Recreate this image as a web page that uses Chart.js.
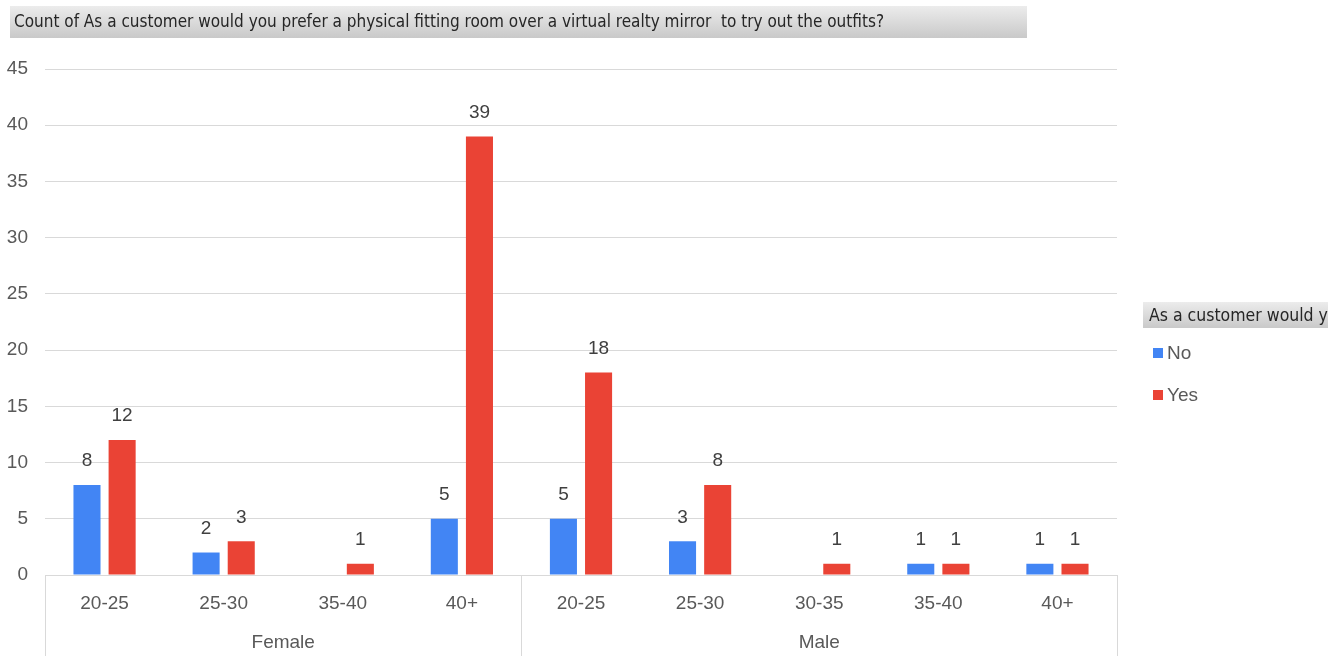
<!DOCTYPE html>
<html>
<head>
<meta charset="utf-8">
<script src="https://cdn.jsdelivr.net/npm/chart.js@4.4.1/dist/chart.umd.min.js"></script>
<style>
  html, body { margin: 0; padding: 0; background: #fff; }
  #wrap { width: 1328px; height: 656px; position: relative; }
</style>
</head>
<body>
<div id="wrap"><canvas id="chart"></canvas></div>
<script>
// data
const ageBands = ['20-25', '25-30', '35-40', '40+', '20-25', '25-30', '30-35', '35-40', '40+'];
const genders = ['Female', 'Male'];
const genderSizes = [4, 5]; // how many age bands under each gender
const noCounts = [8, 2, null, 5, 5, 3, null, 1, 1];
const yesCounts = [12, 3, 1, 39, 18, 8, 1, 1, 1];
const yTicks = [0, 5, 10, 15, 20, 25, 30, 35, 40, 45];

const chartTitle = 'Count of As a customer would you prefer a physical fitting room over a virtual realty mirror  to try out the outfits?';
const legendTitle = 'As a customer would you prefer a physical fitting room over a virtual reality mirror to try out the outfits?';

const BLUE = '#4285F4', RED = '#EA4335';
const TXT = '#595959';
const NUM_FONT = '19px "Liberation Sans", Arial, sans-serif';
const TITLE_FONT = '17px "DejaVu Sans Condensed", "Liberation Sans Narrow", sans-serif';
const LEG_FONT = '17.5px "DejaVu Sans Condensed", "Liberation Sans Narrow", sans-serif';

function grayBox(ctx, x, y, w, h) {
  const g = ctx.createLinearGradient(0, y, 0, y + h);
  g.addColorStop(0, '#ececec');
  g.addColorStop(1, '#c9c9c9');
  ctx.fillStyle = g;
  ctx.fillRect(x, y, w, h);
}

// values above each bar
const valueLabels = {
  id: 'valueLabels',
  afterDatasetsDraw(chart) {
    const ctx = chart.ctx;
    ctx.save();
    ctx.font = NUM_FONT;
    ctx.fillStyle = '#404040';
    ctx.textAlign = 'center';
    ctx.textBaseline = 'middle';
    chart.data.datasets.forEach((ds, i) => {
      chart.getDatasetMeta(i).data.forEach((bar, j) => {
        const v = ds.data[j];
        if (v == null) return;
        ctx.fillText(String(v), bar.x, bar.y - 24);
      });
    });
    ctx.restore();
  }
};

// title box, legend, gender row of the x axis
const decor = {
  id: 'decor',
  afterDraw(chart) {
    const ctx = chart.ctx;
    const area = chart.chartArea;
    const xs = chart.scales.x;
    ctx.save();

    // title
    grayBox(ctx, 10, 6, 1017, 32);
    ctx.font = TITLE_FONT;
    ctx.fillStyle = '#262626';
    ctx.textBaseline = 'middle';
    ctx.textAlign = 'left';
    ctx.fillText(chartTitle, 14, 23);

    // legend
    grayBox(ctx, 1143, 302, 200, 26);
    ctx.font = LEG_FONT;
    ctx.fillStyle = '#262626';
    ctx.fillText(legendTitle, 1149, 316);
    ctx.font = NUM_FONT;
    chart.data.datasets.forEach((ds, i) => {
      const cy = 353 + i * 42;
      ctx.fillStyle = ds.backgroundColor;
      ctx.fillRect(1153, cy - 5, 10, 10);
      ctx.fillStyle = TXT;
      ctx.fillText(ds.label, 1167, cy + 1);
    });

    // gender group separators and labels
    ctx.strokeStyle = '#d9d9d9';
    ctx.lineWidth = 1;
    const bottom = chart.height;
    let start = 0;
    const edges = [area.left];
    genders.forEach((g, k) => {
      const end = start + genderSizes[k] - 1;
      const mid = (xs.getPixelForValue(start) + xs.getPixelForValue(end)) / 2;
      ctx.fillStyle = TXT;
      ctx.textAlign = 'center';
      ctx.fillText(g, mid, 643);
      if (k < genders.length - 1) {
        edges.push((xs.getPixelForValue(end) + xs.getPixelForValue(end + 1)) / 2);
      }
      start = end + 1;
    });
    edges.push(area.right);
    edges.forEach(x => {
      ctx.beginPath();
      ctx.moveTo(Math.round(x) + 0.5, area.bottom);
      ctx.lineTo(Math.round(x) + 0.5, bottom);
      ctx.stroke();
    });
    ctx.restore();
  }
};

new Chart(document.getElementById('chart'), {
  type: 'bar',
  data: {
    labels: ageBands,
    datasets: [
      { label: 'No', data: noCounts, backgroundColor: BLUE },
      { label: 'Yes', data: yesCounts, backgroundColor: RED }
    ]
  },
  options: {
    responsive: true,
    maintainAspectRatio: false,
    animation: false,
    devicePixelRatio: 1,
    categoryPercentage: 0.59,
    barPercentage: 0.77,
    layout: { padding: { top: 69, right: 211, bottom: 0, left: 0 } },
    plugins: {
      legend: { display: false },
      title: { display: false },
      tooltip: { enabled: false }
    },
    scales: {
      x: {
        grid: { display: false, drawTicks: false },
        border: { display: true, color: '#d9d9d9' },
        ticks: { color: TXT, font: { family: '"Liberation Sans", Arial, sans-serif', size: 19 }, padding: 17, maxRotation: 0 },
        afterFit(scale) { scale.height = 81; }
      },
      y: {
        min: 0,
        max: 45,
        afterBuildTicks(scale) { scale.ticks = yTicks.map(v => ({ value: v })); },
        grid: { color: '#d9d9d9', drawTicks: false },
        border: { display: false },
        ticks: { color: TXT, font: { family: '"Liberation Sans", Arial, sans-serif', size: 19 }, padding: 17 },
        afterFit(scale) { scale.width = 45; }
      }
    }
  },
  plugins: [valueLabels, decor]
});
</script>
</body>
</html>
